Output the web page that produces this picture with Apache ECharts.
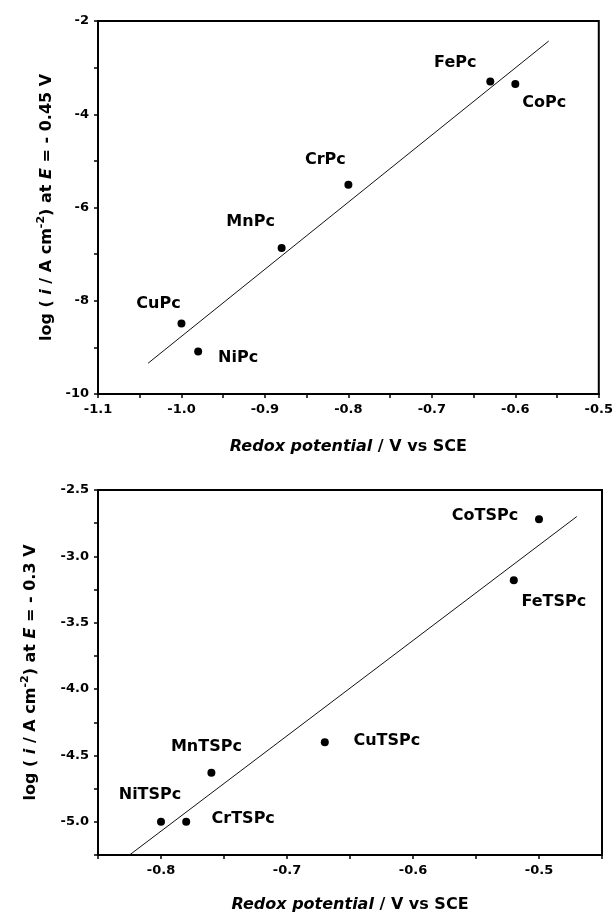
<!DOCTYPE html>
<html>
<head>
<meta charset="utf-8">
<title>log i vs redox potential</title>
<script src="https://cdn.jsdelivr.net/npm/echarts@6/dist/echarts.min.js"></script>
<style>
  html, body { margin: 0; padding: 0; background: #fff; }
  #chart { width: 616px; height: 914px; }
</style>
</head>
<body>
<div id="chart"></div>
<script>
// 上图：MPc
var topNames = ['FePc', 'CoPc', 'CrPc', 'MnPc', 'CuPc', 'NiPc'];
var topX = [-0.63, -0.60, -0.80, -0.88, -1.00, -0.98];
var topY = [-3.30, -3.35, -5.51, -6.87, -8.49, -9.09];
var topFitX = [-1.04, -0.56];
var topFitY = [-9.34, -2.43];

// 下图：MTSPc
var botNames = ['CoTSPc', 'FeTSPc', 'CuTSPc', 'MnTSPc', 'NiTSPc', 'CrTSPc'];
var botX = [-0.50, -0.52, -0.67, -0.76, -0.80, -0.78];
var botY = [-2.72, -3.18, -4.40, -4.63, -5.00, -5.00];
var botFitX = [-0.825, -0.47];
var botFitY = [-5.25, -2.70];

// 标注位置（像素偏移）
var topLabelOffset = [[-35, -19], [29, 19], [-23, -25], [-31, -26], [-23, -20], [40, 6]];
var botLabelOffset = [[-54, -3], [40, 22], [62, -1], [-5, -26], [-11, -27], [57, -3]];

var FONT = 'DejaVu Sans';

function points(xs, ys, names, offsets) {
  return xs.map(function(x, i) {
    return {
      name: names[i],
      value: [x, ys[i]],
      label: { offset: offsets[i] }
    };
  });
}

function fitLine(xs, ys) {
  return xs.map(function(x, i) { return [x, ys[i]]; });
}

var rich = {
  b:   { fontFamily: FONT, fontWeight: 'bold', fontSize: 16, color: '#000', lineHeight: 22 },
  bi:  { fontFamily: FONT, fontWeight: 'bold', fontStyle: 'italic', fontSize: 16, color: '#000', lineHeight: 22 },
  sup: { fontFamily: FONT, fontWeight: 'bold', fontSize: 11, color: '#000', verticalAlign: 'top', lineHeight: 11 }
};

function xAxisOpt(gridIndex, min, max, gap) {
  return {
    type: 'value', gridIndex: gridIndex, min: min, max: max, interval: 0.05,
    name: '{bi|Redox potential}{b| / V vs SCE}',
    nameLocation: 'middle', nameGap: gap,
    nameTextStyle: { rich: rich },
    axisLine: { lineStyle: { color: '#000', width: 2 } },
    axisTick: { inside: false, length: 4, lineStyle: { color: '#000', width: 1.5 } },
    axisLabel: {
      margin: 9, color: '#000', fontFamily: FONT, fontWeight: 'bold', fontSize: 13,
      formatter: function(v) { return Math.round(v * 20) % 2 === 0 ? v.toFixed(1) : ''; }
    },
    splitLine: { show: false }
  };
}

function scatterSeries(idx, data) {
  return {
    type: 'scatter', xAxisIndex: idx, yAxisIndex: idx,
    data: data,
    symbol: 'circle', symbolSize: 8,
    itemStyle: { color: '#000', opacity: 1 },
    label: {
      show: true, position: 'inside', formatter: '{b}',
      color: '#000', fontFamily: FONT, fontWeight: 'bold', fontSize: 16
    },
    emphasis: { disabled: true },
    z: 3
  };
}

function lineSeries(idx, data) {
  return {
    type: 'line', xAxisIndex: idx, yAxisIndex: idx,
    data: data,
    showSymbol: false, symbol: 'none',
    lineStyle: { color: '#111', width: 1 }, z: 2
  };
}

var option = {
  backgroundColor: '#fff',
  animation: false,
  grid: [
    { left: 98, top: 21, width: 504, height: 373, show: true, borderColor: '#000', borderWidth: 2 },
    { left: 98, top: 490, width: 504, height: 372, show: true, borderColor: '#000', borderWidth: 2 }
  ],
  xAxis: [
    xAxisOpt(0, -1.1, -0.5, 42),
    xAxisOpt(1, -0.85, -0.45, 39)
  ],
  yAxis: [
    {
      type: 'value', gridIndex: 0, min: -10, max: -2, interval: 1,
      name: '{b|log ( }{bi|i}{b| / A cm}{sup|-2}{b|) at }{bi|E}{b| = - 0.45 V}',
      nameLocation: 'middle', nameRotate: 90, nameGap: 33,
      nameTextStyle: { rich: rich },
      axisLine: { lineStyle: { color: '#000', width: 2 } },
      axisTick: { length: 4, lineStyle: { color: '#000', width: 1.5 } },
      axisLabel: {
        margin: 9, color: '#000', fontFamily: FONT, fontWeight: 'bold', fontSize: 13,
        formatter: function(v) { return Math.round(v) % 2 === 0 ? String(v) : ''; }
      },
      splitLine: { show: false }
    },
    {
      type: 'value', gridIndex: 1, min: -5.25, max: -2.5, interval: 0.25,
      name: '{b|log ( }{bi|i}{b| / A cm}{sup|-2}{b|) at }{bi|E}{b| = - 0.3 V}',
      nameLocation: 'middle', nameRotate: 90, nameGap: 56,
      nameTextStyle: { rich: rich },
      axisLine: { lineStyle: { color: '#000', width: 2 } },
      axisTick: { length: 4, lineStyle: { color: '#000', width: 1.5 } },
      axisLabel: {
        margin: 9, color: '#000', fontFamily: FONT, fontWeight: 'bold', fontSize: 13,
        formatter: function(v) { return Math.round(v * 4) % 2 === 0 ? v.toFixed(1) : ''; }
      },
      splitLine: { show: false }
    }
  ],
  series: [
    lineSeries(0, fitLine(topFitX, topFitY)),
    scatterSeries(0, points(topX, topY, topNames, topLabelOffset)),
    lineSeries(1, fitLine(botFitX, botFitY)),
    scatterSeries(1, points(botX, botY, botNames, botLabelOffset))
  ]
};

var chart = echarts.init(document.getElementById('chart'));
chart.setOption(option);
</script>
</body>
</html>
